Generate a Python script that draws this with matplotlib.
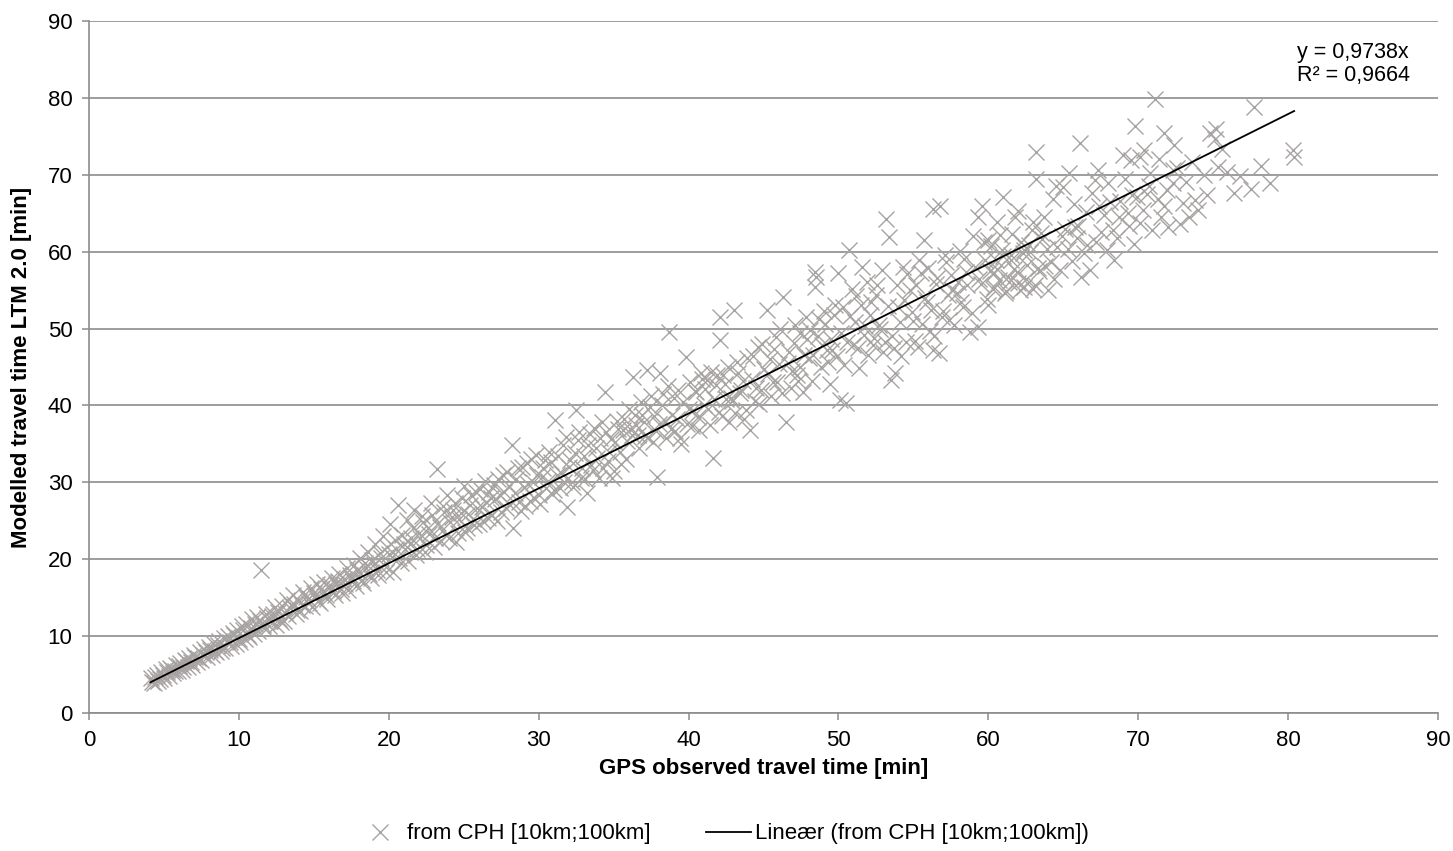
import numpy as np
import matplotlib
matplotlib.use('Agg')
import matplotlib.pyplot as plt
from matplotlib.lines import Line2D

# values (GPS observed vs LTM 2.0 modelled, minutes)
gps_short = [4.1, 4.3, 4.5, 4.6, 4.8, 5.0, 5.1, 5.3, 5.4, 5.6, 5.8, 5.9, 6.1, 6.2, 6.4, 6.6, 6.7, 6.9, 7.0, 7.2,
             7.4, 7.5, 7.7, 7.9, 8.0, 8.2, 8.3, 8.5, 8.7, 8.8, 9.0, 9.1, 9.3, 9.5, 9.6, 9.8, 9.9, 10.1, 10.2, 10.4,
             10.5, 10.7, 10.9, 11.0, 11.2, 11.3, 11.5, 11.7, 11.8, 12.0,
             4.2, 4.4, 4.7, 4.9, 5.2, 5.5, 5.7, 6.0, 6.3, 6.5, 6.8, 7.1, 7.3, 7.6, 7.8, 8.1, 8.4, 8.6, 8.9, 9.2,
             9.4, 9.7, 10.0, 10.3, 10.6, 10.8, 11.1, 11.4, 11.6, 11.9]
ltm_short = [4.6, 3.9, 4.9, 4.2, 5.3, 4.5, 5.7, 4.8, 5.9, 5.2, 6.3, 5.4, 6.5, 5.6, 6.9, 6.0, 7.2, 6.3, 7.6, 6.6,
             7.9, 6.9, 8.3, 7.3, 8.6, 7.5, 9.1, 7.9, 9.4, 8.1, 9.7, 8.4, 10.0, 8.7, 10.4, 9.0, 10.8, 9.2, 11.3, 9.6,
             11.6, 9.9, 12.2, 10.3, 12.5, 10.6, 18.6, 11.0, 12.9, 11.3,
             4.0, 4.7, 4.4, 5.0, 5.3, 5.6, 5.4, 6.1, 6.0, 6.7, 6.6, 7.3, 7.1, 7.5, 7.9, 8.2, 8.0, 8.9, 8.5, 9.4,
             9.2, 10.1, 9.6, 10.8, 10.1, 11.0, 11.6, 11.9, 11.4, 12.4]

gps_lower = [12.2, 12.4, 12.5, 12.7, 12.9, 13.0, 13.2, 13.3, 13.5, 13.6, 13.8, 14.0, 14.1, 14.3, 14.4, 14.6, 14.8, 14.9,
             15.1, 15.2, 15.4, 15.6, 15.7, 15.9, 16.0, 16.2, 16.4, 16.5, 16.7, 16.9, 17.0, 17.2, 17.3, 17.5, 17.7, 17.8,
             18.0, 18.1, 18.3, 18.5, 18.6, 18.8, 19.0, 19.1, 19.3, 19.5, 19.6, 19.8, 20.0, 20.1, 20.3, 20.5, 20.6, 20.8,
             21.0, 21.2, 21.3, 21.5, 21.7, 21.8, 22.0, 22.2, 22.4, 22.6, 22.8, 23.0, 23.2, 23.3, 23.5, 23.7, 23.9, 24.0,
             24.2, 24.4, 24.6, 24.8, 25.0,
             12.1, 12.3, 12.6, 12.8, 13.1, 13.4, 13.7, 13.9, 14.2, 14.5, 14.7, 15.0, 15.3, 15.5, 15.8, 16.1, 16.3, 16.6,
             16.8, 17.1, 17.4, 17.6, 17.9, 18.2, 18.4, 18.7, 18.9, 19.2, 19.4, 19.7, 19.9, 20.2, 20.4, 20.7, 20.9, 21.1,
             21.4, 21.6, 21.9, 22.1, 22.3, 22.5, 22.7, 22.9, 23.1, 23.4, 23.6, 23.8, 24.1, 24.3, 24.5, 24.7, 24.9]
ltm_lower = [12.6, 13.8, 11.4, 12.2, 13.9, 12.0, 14.7, 12.6, 14.0, 15.3, 12.9, 14.5, 13.3, 15.7, 13.9, 14.8, 16.3, 13.8,
             15.2, 16.8, 14.3, 15.9, 17.0, 14.8, 16.2, 17.6, 15.3, 16.8, 18.1, 15.6, 17.4, 18.9, 16.0, 17.6, 19.3, 16.5,
             18.3, 20.1, 16.9, 18.8, 21.0, 17.5, 19.4, 22.0, 17.9, 20.1, 23.0, 18.4, 20.7, 24.6, 18.3, 21.3, 27.0, 19.5,
             22.0, 25.1, 19.8, 22.8, 26.4, 20.6, 23.4, 25.6, 21.0, 24.0, 27.3, 21.6, 31.7, 24.7, 22.4, 26.2, 28.4, 22.8,
             25.5, 27.3, 23.4, 26.0, 29.5,
             11.9, 12.9, 13.1, 11.8, 13.0, 13.6, 14.2, 13.4, 14.0, 15.1, 14.3, 15.6, 14.6, 16.1, 15.4, 16.6, 15.8, 17.2,
             16.1, 16.8, 18.0, 17.1, 18.6, 17.3, 19.5, 18.1, 19.9, 18.6, 20.8, 19.2, 21.6, 20.3, 22.5, 20.1, 23.1, 21.3,
             22.0, 24.0, 21.3, 22.7, 24.9, 21.8, 23.3, 25.8, 22.7, 24.2, 26.9, 23.1, 24.8, 26.4, 22.3, 25.2, 27.9]

gps_mid = [25.2, 25.4, 25.6, 25.8, 26.0, 26.2, 26.4, 26.6, 26.8, 27.0, 27.2, 27.4, 27.6, 27.8, 28.0, 28.2, 28.3, 28.5,
           28.7, 28.9, 29.1, 29.3, 29.5, 29.7, 29.9, 30.1, 30.3, 30.5, 30.7, 30.9, 31.1, 31.2, 31.4, 31.6, 31.9, 32.0,
           32.2, 32.5, 32.6, 32.8, 33.0, 33.2, 33.4, 33.6, 33.8, 34.0, 34.2, 34.4, 34.6, 34.8, 35.0, 35.2, 35.4, 35.6,
           35.8, 36.0, 36.2, 36.3, 36.5, 36.7, 36.9, 37.1, 37.2, 37.4, 37.6, 37.9, 38.0, 38.1, 38.3, 38.5, 38.7, 38.9,
           39.1, 39.3, 39.5, 39.8, 40.0,
           25.1, 25.3, 25.5, 25.7, 25.9, 26.1, 26.3, 26.5, 26.7, 26.9, 27.1, 27.3, 27.5, 27.7, 27.9, 28.1, 28.4, 28.6,
           28.8, 29.0, 29.2, 29.4, 29.6, 29.8, 30.0, 30.2, 30.4,
           30.6, 30.8, 31.0, 31.3, 31.5, 31.7, 31.8, 32.1, 32.3, 32.4, 32.7, 32.9, 33.1, 33.3, 33.5, 33.7, 33.9, 34.1,
           34.3, 34.5, 34.7, 34.9, 35.1, 35.3, 35.5, 35.7, 35.9, 36.1, 36.4, 36.6, 36.8, 37.0, 37.3, 37.5, 37.7, 37.8,
           38.2, 38.4, 38.6, 38.8, 39.0, 39.2, 39.4, 39.6, 39.9]
ltm_mid = [24.1, 27.0, 25.2, 28.8, 24.6, 26.8, 30.2, 25.4, 27.9, 29.6, 25.0, 28.3, 31.0, 26.6, 29.5, 34.8, 24.0, 30.4,
           27.5, 32.0, 26.9, 29.8, 33.0, 28.0, 30.9, 27.2, 31.8, 29.2, 33.9, 28.5, 38.1, 31.0, 29.3, 34.8, 26.8, 32.0,
           30.0, 39.4, 35.5, 30.6, 33.4, 28.6, 36.3, 31.6, 34.4, 30.5, 37.8, 41.8, 32.8, 35.6, 31.5, 38.0, 33.9, 36.8,
           33.0, 39.5, 36.2, 43.7, 37.4, 34.4, 38.7, 36.0, 44.6, 39.8, 35.2, 30.7, 37.6, 44.2, 41.5, 35.8, 49.6, 38.8,
           36.7, 42.0, 35.0, 46.3, 39.6,
           23.5, 25.9, 28.3, 24.4, 26.6, 29.1, 25.0, 27.4, 28.7, 25.8, 27.8, 30.4, 26.2, 28.8, 31.3, 27.0, 28.6, 31.8,
           26.3, 29.4, 32.5, 27.6, 30.1, 33.6, 28.3, 30.7, 32.9,
           30.2, 32.6, 29.0, 33.4, 31.2, 30.1, 35.9, 32.9, 29.4, 33.8, 36.6, 31.9, 30.4, 34.9, 32.2, 37.1, 33.1, 35.8,
           31.8, 36.5, 34.0, 30.6, 35.2, 36.9, 32.4, 38.2, 35.4, 37.0, 38.8, 36.1, 40.5, 37.8, 35.9, 41.2, 38.6, 36.7,
           40.0, 38.0, 42.5, 36.9, 41.0, 38.3, 35.8, 40.4, 37.6]

gps_upper = [40.2, 40.4, 40.6, 40.8, 41.0, 41.2, 41.4, 41.6, 41.8, 42.0, 42.1, 42.1, 42.3, 42.5, 42.7, 42.9, 43.0, 43.2,
             43.4, 43.6, 43.8, 44.1, 44.3, 44.5, 44.7, 44.9, 45.2, 45.3, 45.5, 45.7, 45.9, 46.1, 46.3, 46.5, 46.6, 46.8,
             47.0, 47.2, 47.4, 47.4, 47.6, 47.8, 48.0, 48.2, 48.4, 48.4, 48.5, 48.6, 48.8, 49.0, 49.2, 49.4, 49.6, 49.8,
             50.0, 50.1, 50.2, 50.4, 50.5, 50.7, 50.8, 51.0, 51.2, 51.4, 51.6, 51.8, 52.0, 52.2, 52.4, 52.6, 52.8, 53.0,
             53.2, 53.4, 53.5, 53.6, 53.8, 54.0, 54.3, 54.5, 54.8,
             40.1, 40.3, 40.5, 40.7, 40.9, 41.1, 41.3, 41.5, 41.7, 41.9, 42.2, 42.4, 42.6, 42.8, 43.1, 43.3, 43.5, 43.7,
             43.9, 44.2, 44.4, 44.6, 44.8, 45.0, 45.4, 45.6, 45.8, 46.0, 46.2, 46.7, 46.9, 47.1, 47.3, 47.7, 47.9,
             48.1, 48.3, 48.7, 48.9, 49.1, 49.3, 49.5, 49.7, 49.9, 50.3, 50.6, 50.9, 51.1, 51.3, 51.5, 51.7, 51.9, 52.1,
             52.3, 52.5, 52.7, 52.9, 53.1, 53.3, 53.7, 53.9, 54.1, 54.2, 54.4, 54.6]
ltm_upper = [37.3, 41.9, 38.5, 44.2, 40.0, 43.3, 37.5, 33.1, 42.6, 39.2, 48.5, 51.5, 44.0, 40.8, 37.8, 40.6, 52.4, 45.6,
             41.6, 43.2, 39.4, 36.8, 46.4, 42.3, 40.2, 48.0, 52.4, 44.1, 41.2, 47.3, 43.0, 50.0, 54.1, 37.9, 45.5, 42.3,
             48.1, 44.0, 45.0, 49.4, 41.8, 51.5, 46.2, 43.2, 57.4, 55.4, 56.7, 49.0, 45.0, 52.3, 47.2, 42.8, 47.2, 53.0,
             57.2, 40.7, 49.4, 45.3, 40.3, 60.2, 51.6, 47.8, 54.2, 44.9, 58.0, 50.3, 46.6, 53.4, 48.8, 55.6, 50.0, 46.9,
             64.3, 61.9, 43.3, 49.0, 44.2, 52.8, 58.0, 48.2, 55.0,
             43.0, 39.4, 41.7, 36.8, 43.5, 42.1, 39.6, 44.4, 40.8, 43.9, 38.6, 42.8, 45.0, 41.0, 39.0, 44.2, 42.0, 38.3,
             46.2, 43.5, 40.6, 47.6, 42.0, 44.7, 46.0, 43.0, 48.9, 45.4, 41.6, 47.0, 44.5, 50.5, 43.2, 46.6, 48.7,
             49.8, 46.5, 51.3, 47.9, 50.6, 45.6, 48.6, 51.8, 46.4, 52.8, 48.2, 55.1, 50.9, 47.5, 53.0, 49.1, 56.0, 51.7,
             47.8, 54.4, 50.5, 57.6, 48.2, 52.9, 47.5, 55.7, 50.9, 46.4, 53.7, 57.1]

gps_long = [55.0, 55.3, 55.5, 55.7, 55.9, 56.1, 56.3, 56.3, 56.5, 56.7, 56.8, 57.0, 57.2, 57.4, 57.6, 57.9, 58.1, 58.3,
            58.5, 58.8, 59.0, 59.3, 59.3, 59.5, 59.6, 59.8, 60.0, 60.2, 60.4, 60.6, 60.8, 61.0, 61.1, 61.3, 61.5, 61.8,
            62.0, 62.2, 62.4, 62.6, 62.9, 63.0, 63.2, 63.2, 63.4, 63.7, 63.9, 64.0, 64.3, 64.6, 64.8, 65.1, 65.4, 65.6,
            65.9, 66.1, 66.2, 66.5, 66.8, 67.1, 67.3, 67.5, 67.9, 68.1, 68.4, 68.7, 69.0, 69.3, 69.5, 69.7, 69.8, 70.1,
            70.1, 70.4, 70.6, 70.9, 71.1, 71.5, 71.7, 71.7, 72.0, 72.3, 72.3, 72.4, 73.0, 73.4, 74.0, 74.4, 74.8, 75.1,
            75.2, 75.3, 75.9, 76.4, 77.5, 77.7, 78.8, 80.3, 80.4,
            54.9, 55.1, 55.2, 55.4, 55.6, 55.8, 56.0, 56.2, 56.4, 56.6, 56.9, 57.1, 57.3, 57.5, 57.7, 58.0, 58.2, 58.4,
            58.6, 58.9, 59.1, 59.4, 59.7, 59.9, 60.1, 60.3, 60.5, 60.7, 60.9, 61.2, 61.4, 61.6, 61.9, 62.1, 62.3, 62.5,
            62.8, 63.1, 63.3, 63.6,
            60.0, 60.6, 61.0, 61.7, 62.0, 62.7, 63.5, 64.2, 64.5, 64.9, 65.3, 65.7, 66.0, 66.4, 66.9, 67.2, 67.7, 68.0,
            68.3, 68.8, 69.1, 69.4, 69.9, 70.3, 70.8, 71.3, 71.9, 72.6, 73.2, 73.8, 60.4, 61.5, 62.4, 63.0, 63.8, 64.4,
            65.0, 65.8, 66.6, 67.4, 68.6, 69.6, 70.7, 71.4, 72.8, 73.6, 74.6, 75.6, 76.8, 78.2]
ltm_long = [51.0, 47.6, 57.2, 61.5, 53.4, 49.7, 65.6, 47.2, 55.8, 46.8, 65.9, 52.3, 58.6, 51.1, 55.0, 54.6, 60.1, 52.8,
            57.3, 49.6, 62.0, 50.2, 64.5, 55.8, 65.9, 58.9, 53.0, 60.8, 55.4, 57.8, 62.2, 67.1, 54.6, 56.7, 59.6, 64.5,
            55.9, 61.2, 55.4, 58.3, 62.8, 55.2, 73.0, 69.5, 57.5, 64.5, 60.4, 55.0, 66.8, 60.6, 57.6, 63.0, 70.2, 58.8,
            61.8, 74.1, 56.7, 65.2, 57.6, 69.3, 70.6, 62.5, 60.2, 66.4, 58.9, 64.5, 72.6, 65.0, 71.9, 61.0, 76.3, 72.3,
            63.7, 73.2, 67.5, 62.8, 79.9, 64.5, 75.4, 65.9, 63.2, 68.9, 70.6, 73.9, 66.3, 64.5, 65.4, 70.0, 75.4, 74.7,
            76.0, 71.0, 70.4, 67.6, 68.2, 78.8, 68.9, 73.2, 72.3,
            52.2, 48.4, 55.6, 58.9, 50.6, 54.0, 57.9, 52.4, 49.0, 56.6, 51.5, 59.6, 54.3, 57.0, 50.5, 56.1, 53.5, 59.0,
            55.6, 52.0, 58.0, 56.4, 61.2, 53.8, 57.5, 55.1, 58.9, 56.3, 60.2, 54.9, 56.0, 62.3, 57.4, 55.0, 59.8, 56.4,
            60.0, 55.7, 57.9, 61.6,
            61.5, 63.8, 59.4, 57.8, 65.3, 60.9, 62.4, 58.6, 68.6, 62.0, 60.4, 66.2, 63.4, 59.8, 67.6, 61.3, 64.8, 68.9,
            62.8, 66.6, 69.5, 63.3, 67.1, 65.4, 70.2, 66.9, 68.0, 70.9, 69.0, 66.7, 57.2, 58.9, 60.2, 63.9, 58.2, 56.4,
            68.4, 63.2, 60.9, 66.0, 61.8, 67.4, 68.6, 72.0, 63.6, 71.7, 67.4, 73.3, 69.9, 71.2]

slope = 0.9738
r2 = 0.9664
x_ticks = [0, 10, 20, 30, 40, 50, 60, 70, 80, 90]
y_ticks = [0, 10, 20, 30, 40, 50, 60, 70, 80, 90]
series_label = 'from CPH [10km;100km]'
trend_label = 'Lineær (from CPH [10km;100km])'

gps = np.array(gps_short + gps_lower + gps_mid + gps_upper + gps_long)
ltm = np.array(ltm_short + ltm_lower + ltm_mid + ltm_upper + ltm_long)
assert len(gps) == len(ltm)

plt.rcParams['font.family'] = ['Liberation Sans', 'DejaVu Sans']

grey = '#A8A3A3'
axis_grey = '#8C8C8C'
fs = 16

fig = plt.figure(figsize=(14.53, 8.51), dpi=100)
ax = fig.add_axes([0.0613, 0.1622, 0.9284, 0.8131])

ax.plot(gps, ltm, linestyle='none', marker='x', markersize=12, markeredgewidth=1.0,
        color=grey, zorder=2)

xs = np.array([gps.min(), gps.max()])
ax.plot(xs, slope * xs, color='black', linewidth=1.3, zorder=3)

ax.text(80.6, 87.3, 'y = {:.4f}x\nR² = {:.4f}'.format(slope, r2).replace('.', ','),
        ha='left', va='top', fontsize=15.5, linespacing=1.15)

ax.set_xlim(0, 90)
ax.set_ylim(0, 90)
ax.set_xticks(x_ticks)
ax.set_yticks(y_ticks)
ax.tick_params(labelsize=fs, length=5, width=1.1, color=axis_grey)
ax.tick_params(axis='x', pad=7)
ax.tick_params(axis='y', pad=7)
ax.yaxis.grid(True, color=axis_grey, linewidth=1.2)
ax.set_axisbelow(True)
for side in ['top', 'right']:
    ax.spines[side].set_visible(False)
for side in ['left', 'bottom']:
    ax.spines[side].set_color(axis_grey)
    ax.spines[side].set_linewidth(1.2)

ax.set_xlabel('GPS observed travel time [min]', fontsize=fs, fontweight='bold', labelpad=5)
ax.set_ylabel('Modelled travel time LTM 2.0 [min]', fontsize=fs, fontweight='bold')
ax.yaxis.set_label_coords(-0.042, 0.5)

handles = [Line2D([], [], linestyle='none', marker='x', markersize=12, markeredgewidth=1.0, color=grey),
           Line2D([], [], color='black', linewidth=1.3)]
fig.legend(handles, [series_label, trend_label], loc='center', bbox_to_anchor=(0.498, 0.02),
           ncol=2, frameon=False, fontsize=fs, handlelength=2.0, columnspacing=2.5, handletextpad=0.2,
           borderpad=0.1)

fig.savefig('out.png', dpi=100)
